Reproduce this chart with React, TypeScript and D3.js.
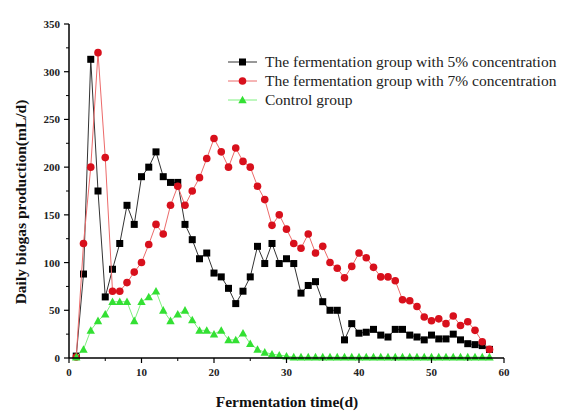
import React from "react";
import * as d3 from "d3";

const days: number[] = [
  1, 2, 3, 4, 5, 6, 7, 8, 9, 10, 11, 12, 13, 14, 15, 16, 17, 18, 19, 20,
  21, 22, 23, 24, 25, 26, 27, 28, 29, 30, 31, 32, 33, 34, 35, 36, 37, 38, 39, 40,
  41, 42, 43, 44, 45, 46, 47, 48, 49, 50, 51, 52, 53, 54, 55, 56, 57, 58,
];

const conc5: number[] = [
  2, 88, 313, 175, 64, 93, 120, 160, 140, 190, 200, 216, 190, 184, 184, 140, 124, 104, 110, 89,
  85, 73, 57, 70, 85, 117, 99, 120, 99, 104, 99, 68, 76, 80, 59, 50, 50, 19, 36, 26,
  27, 30, 24, 22, 30, 30, 24, 22, 19, 24, 20, 20, 25, 19, 15, 14, 13, 9,
];

const conc7: number[] = [
  1, 120, 200, 320, 210, 70, 70, 79, 90, 100, 119, 140, 130, 160, 180, 160, 175, 189, 209, 230,
  216, 200, 220, 206, 200, 180, 166, 139, 150, 135, 120, 115, 130, 110, 117, 100, 94, 84, 96, 110,
  105, 95, 85, 85, 81, 61, 60, 54, 43, 39, 41, 36, 44, 34, 38, 29, 17, 9,
];

const control: number[] = [
  1, 9, 29, 39, 46, 59, 59, 59, 39, 59, 64, 70, 50, 39, 46, 50, 40, 29, 29, 25,
  29, 19, 19, 26, 15, 9, 6, 4, 3, 2, 1, 1, 1, 1, 1, 1, 1, 1, 1, 1,
  1, 1, 1, 1, 1, 1, 1, 1, 1, 1, 1, 1, 1, 1, 1, 1, 1, 1,
];

const seriesNames: string[] = [
  "The fermentation group with 5% concentration",
  "The fermentation group with 7% concentration",
  "Control group",
];

const xTicks: number[] = [0, 10, 20, 30, 40, 50, 60];
const yTicks: number[] = [0, 50, 100, 150, 200, 250, 300, 350];

const W = 562;
const H = 411;
const FONT = "Liberation Serif, Times New Roman, serif";

type Shape = "square" | "circle" | "triangle";

function Marker({ x, y, shape, color }: { x: number; y: number; shape: Shape; color: string }) {
  if (shape === "square") {
    return <rect x={x - 3.5} y={y - 3.5} width={7} height={7} fill={color} />;
  }
  if (shape === "circle") {
    return <circle cx={x} cy={y} r={3.8} fill={color} />;
  }
  const s = 4.2;
  return (
    <path
      d={`M${x},${y - s} L${x + s},${y + s * 0.8} L${x - s},${y + s * 0.8} Z`}
      fill={color}
    />
  );
}

export default function App() {
  const x = d3.scaleLinear().domain([0, 60]).range([69, 504]);
  const y = d3.scaleLinear().domain([0, 350]).range([358, 24]);

  const series = [
    { name: seriesNames[0], values: conc5, color: "#000000", line: "#333333", shape: "square" as Shape },
    { name: seriesNames[1], values: conc7, color: "#d8101c", line: "#ec6a6a", shape: "circle" as Shape },
    { name: seriesNames[2], values: control, color: "#33e033", line: "#7ef07e", shape: "triangle" as Shape },
  ];

  const lineGen = d3
    .line<number>()
    .x((_, i) => x(days[i]))
    .y((v) => y(v));

  const xMinor = d3.range(5, 60, 10);
  const yMinor = d3.range(25, 350, 50);

  const legendX1 = 228;
  const legendX2 = 257;
  const legendY0 = 62;
  const legendDy = 19;

  return (
    <svg
      width={W}
      height={H}
      style={{ position: "absolute", left: 0, top: 0, background: "#fff" }}
    >
      <rect x={0} y={0} width={W} height={H} fill="#ffffff" />

      {series.map((s) => (
        <g key={s.name}>
          <path d={lineGen(s.values) || ""} fill="none" stroke={s.line} strokeWidth={1} />
          {s.values.map((v, i) => (
            <Marker key={i} x={x(days[i])} y={y(v)} shape={s.shape} color={s.color} />
          ))}
        </g>
      ))}

      <line x1={x(0)} x2={x(60)} y1={y(0)} y2={y(0)} stroke="#000" strokeWidth={1.5} />
      <line x1={x(0)} x2={x(0)} y1={y(0)} y2={y(350)} stroke="#000" strokeWidth={1.5} />

      {xTicks.map((t) => (
        <g key={"xt" + t}>
          <line x1={x(t)} x2={x(t)} y1={y(0)} y2={y(0) + 5} stroke="#000" strokeWidth={1.2} />
          <text
            x={x(t)}
            y={y(0) + 18}
            textAnchor="middle"
            fontSize={11}
            fontWeight="bold"
            fontFamily={FONT}
            fill="#222"
          >
            {t}
          </text>
        </g>
      ))}
      {xMinor.map((t) => (
        <line key={"xm" + t} x1={x(t)} x2={x(t)} y1={y(0)} y2={y(0) + 3} stroke="#000" strokeWidth={1} />
      ))}

      {yTicks.map((t) => (
        <g key={"yt" + t}>
          <line x1={x(0) - 5} x2={x(0)} y1={y(t)} y2={y(t)} stroke="#000" strokeWidth={1.2} />
          <text
            x={x(0) - 9}
            y={y(t) + 4}
            textAnchor="end"
            fontSize={11}
            fontWeight="bold"
            fontFamily={FONT}
            fill="#222"
          >
            {t}
          </text>
        </g>
      ))}
      {yMinor.map((t) => (
        <line key={"ym" + t} x1={x(0) - 3} x2={x(0)} y1={y(t)} y2={y(t)} stroke="#000" strokeWidth={1} />
      ))}

      <text
        x={287}
        y={407}
        textAnchor="middle"
        fontSize={15.5}
        fontWeight="bold"
        fontFamily={FONT}
        fill="#111"
      >
        Fermentation time(d)
      </text>
      <text
        transform={`translate(26, 202) rotate(-90)`}
        textAnchor="middle"
        fontSize={15.5}
        fontWeight="bold"
        fontFamily={FONT}
        fill="#111"
      >
        Daily biogas production(mL/d)
      </text>

      {series.map((s, i) => {
        const ly = legendY0 + i * legendDy;
        return (
          <g key={"lg" + i}>
            <line x1={legendX1} x2={legendX2} y1={ly} y2={ly} stroke={s.line} strokeWidth={1} />
            <Marker x={(legendX1 + legendX2) / 2} y={ly} shape={s.shape} color={s.color} />
            <text x={265} y={ly + 5} fontSize={15.5} fontFamily={FONT} fill="#222">
              {s.name}
            </text>
          </g>
        );
      })}
    </svg>
  );
}
